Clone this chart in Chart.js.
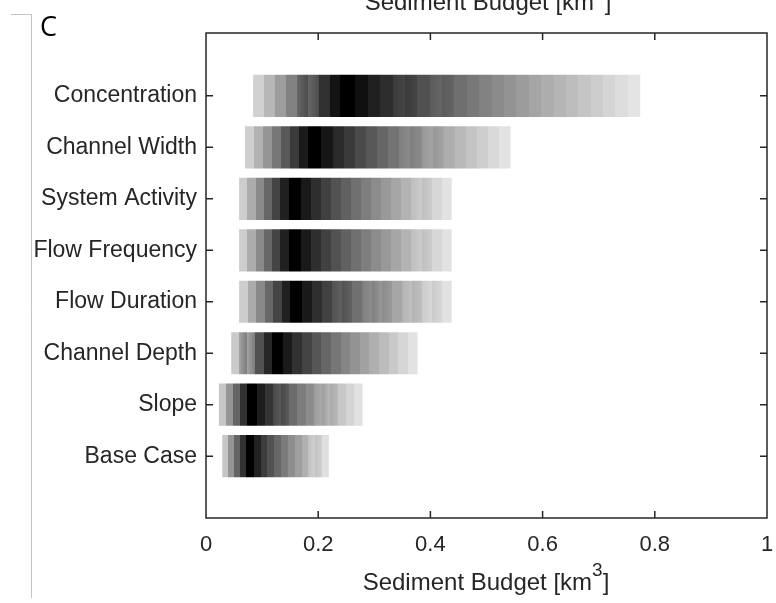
<!DOCTYPE html>
<html>
<head>
<meta charset="utf-8">
<script src="https://cdn.jsdelivr.net/npm/chart.js@4.4.1/dist/chart.umd.min.js"></script>
<style>
  html, body { margin: 0; padding: 0; background: #ffffff; }
  #wrap { position: relative; width: 776px; height: 603px; }
</style>
</head>
<body>
<div id="wrap"><canvas id="budget" width="776" height="603"></canvas></div>
<script>
// Scenarios, listed bottom to top (y = 1 .. 8)
const categories = ['Base Case', 'Slope', 'Channel Depth', 'Flow Duration',
                    'Flow Frequency', 'System Activity', 'Channel Width', 'Concentration'];
// Sediment budget range per scenario [km^3]
const lowerBound = [0.029, 0.023, 0.045, 0.059, 0.059, 0.059, 0.0695, 0.084];
const modeValue  = [0.078, 0.082, 0.127, 0.161, 0.158, 0.158, 0.194, 0.253];
const upperBound = [0.219, 0.279, 0.377, 0.438, 0.438, 0.438, 0.543, 0.774];
// Axis ticks
const xTicks = [0, 0.2, 0.4, 0.6, 0.8, 1];
const xTickLabels = ['0', '0.2', '0.4', '0.6', '0.8', '1'];

const AXIS_COLOR = '#262626';
const FONT = '"Liberation Sans", Arial, Helvetica, sans-serif';

// Lightness of the shading at value v: black around the mode, fading toward both ends
function shadeAt(v, lo, md, hi) {
  if (v <= md) {
    const u = Math.min(1, (md - v) / (md - lo));
    const t = Math.max(0, u - 0.06) / 0.94;
    return 0.87 * Math.pow(t, 0.95);
  }
  const w = Math.min(1, (v - md) / (hi - md));
  const t = Math.max(0, w - 0.02) / 0.98;
  return 0.91 * Math.pow(t, 0.75);
}

function grey(g) {
  const c = Math.round(255 * g);
  return 'rgb(' + c + ',' + c + ',' + c + ')';
}

// Banded horizontal gradient for one bar, built from the x scale
function bandFill(ctx) {
  const chart = ctx.chart;
  const xs = chart.scales.x;
  const i = ctx.dataIndex;
  if (!chart.chartArea || !xs || i === undefined) return '#888';
  const lo = lowerBound[i], md = modeValue[i], hi = upperBound[i];
  const span = hi - lo;
  const n = Math.round(10 + span * 30);
  const bw = span / n;
  const x0 = xs.getPixelForValue(lo), x1 = xs.getPixelForValue(hi);
  const grad = chart.ctx.createLinearGradient(x0, 0, x1, 0);
  const off = v => Math.max(0, Math.min(1, (v - lo) / span));
  const band = (a, b, g) => { grad.addColorStop(off(a), grey(g)); grad.addColorStop(off(b), grey(g)); };

  const leftEnd = md - bw * 0.6, rightStart = md + bw * 0.6;
  const nl = Math.max(2, Math.round((leftEnd - lo) / (bw * 0.85)));
  const wl = (leftEnd - lo) / nl;
  for (let k = 0; k < nl; k++) {
    const a = lo + k * wl, b = a + wl;
    band(a, b, shadeAt((a + b) / 2, lo, md, hi));
  }
  band(leftEnd, rightStart, 0);
  const nr = Math.max(1, Math.round((hi - rightStart) / bw));
  const wr = (hi - rightStart) / nr;
  for (let k = 0; k < nr; k++) {
    const a = rightStart + k * wr, b = a + wr;
    band(a, b, shadeAt((a + b) / 2, lo, md, hi));
  }
  return grad;
}

// Box, inward tick marks, titles and panel label
const framePlugin = {
  id: 'frame',
  afterDatasetsDraw(chart) {
    const { ctx, chartArea: ca, scales } = chart;
    const xs = scales.x, ys = scales.y;
    ctx.save();
    ctx.strokeStyle = AXIS_COLOR;
    ctx.lineWidth = 1.5;
    ctx.strokeRect(ca.left, ca.top, ca.right - ca.left, ca.bottom - ca.top);
    const tl = 7;
    ctx.beginPath();
    xTicks.forEach(v => {
      if (v <= 0 || v >= 1) return;
      const px = xs.getPixelForValue(v);
      ctx.moveTo(px, ca.bottom); ctx.lineTo(px, ca.bottom - tl);
      ctx.moveTo(px, ca.top); ctx.lineTo(px, ca.top + tl);
    });
    categories.forEach((c, i) => {
      const py = ys.getPixelForValue(i + 1);
      ctx.moveTo(ca.left, py); ctx.lineTo(ca.left + tl, py);
      ctx.moveTo(ca.right, py); ctx.lineTo(ca.right - tl, py);
    });
    ctx.stroke();
    ctx.restore();
  },
  afterDraw(chart) {
    const { ctx } = chart;
    ctx.save();
    // text with a raised "3" exponent
    const drawUnitTitle = (cx, baseline) => {
      const main = 'Sediment Budget [km';
      ctx.font = '24px ' + FONT;
      const wMain = ctx.measureText(main).width;
      const wClose = ctx.measureText(']').width;
      ctx.font = '19px ' + FONT;
      const wSup = ctx.measureText('3').width;
      const total = wMain + wSup + wClose;
      let x = cx - total / 2;
      ctx.fillStyle = AXIS_COLOR;
      ctx.textAlign = 'left';
      ctx.textBaseline = 'alphabetic';
      ctx.font = '24px ' + FONT;
      ctx.fillText(main, x, baseline);
      x += wMain;
      ctx.font = '19px ' + FONT;
      ctx.fillText('3', x, baseline - 14);
      x += wSup;
      ctx.font = '24px ' + FONT;
      ctx.fillText(']', x, baseline);
    };
    drawUnitTitle(486, 590);
    drawUnitTitle(488, 10);

    ctx.fillStyle = '#000000';
    ctx.font = '27px "Open Sans", Lato, sans-serif';
    ctx.textAlign = 'left';
    ctx.textBaseline = 'alphabetic';
    ctx.fillText('C', 40, 36);

    ctx.strokeStyle = '#c4c4c4';
    ctx.lineWidth = 1;
    ctx.beginPath();
    ctx.moveTo(11, 14.5); ctx.lineTo(32, 14.5);
    ctx.moveTo(31.5, 14.5); ctx.lineTo(31.5, 598);
    ctx.stroke();
    ctx.restore();
  }
};

new Chart(document.getElementById('budget'), {
  type: 'bar',
  data: {
    datasets: [{
      data: categories.map((c, i) => ({ x: [lowerBound[i], upperBound[i]], y: i + 1 })),
      backgroundColor: bandFill,
      borderWidth: 0,
      barPercentage: 0.82,
      categoryPercentage: 1
    }]
  },
  options: {
    indexAxis: 'y',
    responsive: false,
    animation: false,
    layout: { padding: { top: 33, right: 9, left: 0, bottom: 0 } },
    plugins: { legend: { display: false }, tooltip: { enabled: false }, title: { display: false } },
    scales: {
      x: {
        type: 'linear',
        min: 0, max: 1,
        grid: { display: false, drawTicks: false },
        border: { display: false },
        afterBuildTicks: s => { s.ticks = xTicks.map(v => ({ value: v })); },
        afterFit: s => { s.height = 85; s.paddingLeft = 0; s.paddingRight = 0; },
        ticks: {
          padding: 14,
          color: AXIS_COLOR,
          font: { family: FONT, size: 22 },
          maxRotation: 0,
          autoSkip: false,
          callback: v => xTickLabels[xTicks.indexOf(v)]
        }
      },
      y: {
        type: 'linear',
        offset: false,
        min: -0.2, max: 9.22,
        grid: { display: false, drawTicks: false, offset: false },
        border: { display: false },
        afterBuildTicks: s => { s.ticks = categories.map((c, i) => ({ value: i + 1 })); },
        afterFit: s => { s.width = 206; s.paddingTop = 0; s.paddingBottom = 0; },
        ticks: {
          padding: 9,
          color: AXIS_COLOR,
          font: { family: FONT, size: 23 },
          autoSkip: false,
          callback: v => categories[v - 1]
        }
      }
    }
  },
  plugins: [framePlugin]
});
</script>
</body>
</html>
